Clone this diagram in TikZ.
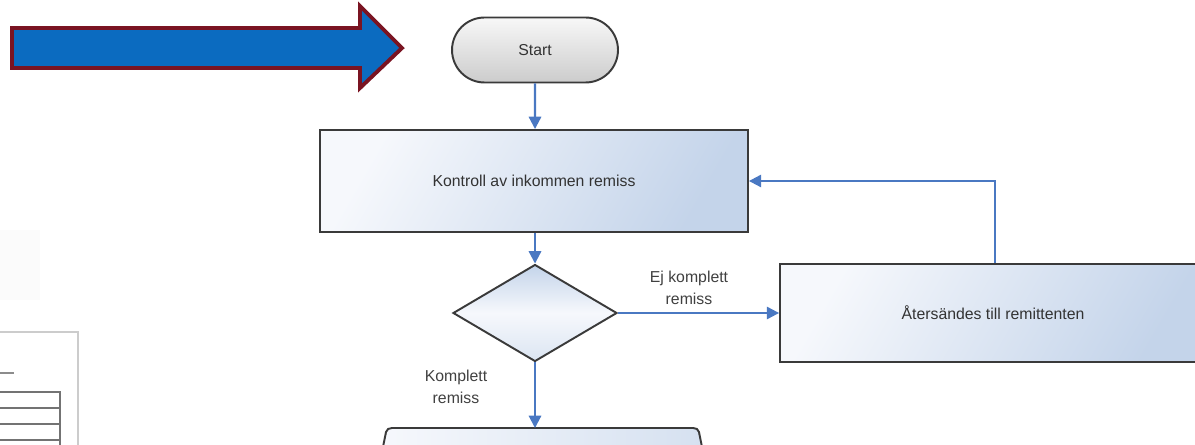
\documentclass[tikz,border=0pt]{standalone}
\usepackage{fontspec}
\setmainfont{Liberation Sans}
\usetikzlibrary{shapes.geometric,shapes.misc,arrows.meta}
\definecolor{flowblue}{HTML}{4A78C2}
\definecolor{boxline}{HTML}{3A3A3A}
\definecolor{bluelight}{HTML}{F6F8FC}
\definecolor{bluedark}{HTML}{C4D4EA}
\definecolor{arrowfill}{HTML}{0B6BC0}
\definecolor{arrowedge}{HTML}{7A1422}
\tikzset{
  box/.style={draw=boxline, line width=1.1pt, rectangle, inner sep=0pt,
     left color=bluelight, right color=bluedark, shading angle=60,
     font=\fontsize{9}{11}\selectfont, text=black!80},
  flow/.style={draw=flowblue, line width=1.2pt, -{Triangle[length=7pt,width=7pt]}},
  lbl/.style={align=center, font=\fontsize{9}{12.5}\selectfont, text=black!75, inner sep=0pt},
}
\begin{document}
\begin{tikzpicture}[x=0.02cm,y=-0.02cm]
\useasboundingbox (0,0) rectangle (1195,445);
% faint background items on the left
\fill[black!1.5] (0,230) rectangle (40,300);
\draw[black!20, line width=0.8pt] (-5,332) rectangle (78,460);
\draw[black!45, line width=0.8pt] (0,373) -- (14,373);
\draw[black!55, line width=0.7pt] (-5,392) rectangle (60,460);
\foreach \yy in {408,424,440} \draw[black!55, line width=0.7pt] (-5,\yy) -- (60,\yy);
% big arrow
\draw[fill=arrowfill, draw=arrowedge, line width=2.2pt, line join=miter]
  (12,28) -- (360,28) -- (360,6) -- (402,48) -- (360,88) -- (360,68) -- (12,68) -- cycle;
% nodes
\node[rounded rectangle, draw=boxline, line width=1.1pt, top color=black!3, bottom color=black!20,
      minimum width=3.32cm, minimum height=1.3cm, inner sep=0pt,
      font=\fontsize{9}{11}\selectfont, text=black!80] (start) at (535,50) {Start};
\node[box, minimum width=8.56cm, minimum height=2.04cm] (kontroll) at (534,181) {Kontroll av inkommen remiss};
\node[diamond, draw=boxline, line width=1.1pt, top color=bluedark, bottom color=bluedark!60, middle color=bluelight,
      minimum width=3.28cm, minimum height=1.94cm, inner sep=0pt] (beslut) at (535,313) {};
\node[box, minimum width=8.52cm, minimum height=1.96cm] (ater) at (993,313) {Återsändes till remittenten};
% partially visible bottom box
\fill[left color=bluelight, right color=bluedark!70] (382,452) -- (388,428) -- (697,428) -- (703,452) -- cycle;
\draw[boxline, line width=1.1pt] (382,452) -- (386,432) to[out=80,in=180] (392,428) -- (693,428) to[out=0,in=100] (699,432) -- (703,452);
\coordinate (nexttop) at (535,428);
\coordinate (fb) at (995,0);
% connectors
\draw[flow] (start) -- (start |- kontroll.north);
\draw[flow] (kontroll.south -| start) -- (beslut);
\draw[flow] (beslut) -- (ater);
\draw[flow] (beslut) -- (nexttop);
\draw[flow] (ater.north -| fb) |- (kontroll.east);
% labels
\node[lbl] (ejlbl) at (689,288) {Ej komplett\\remiss};
\node[lbl] (kolbl) at (456,387) {Komplett\\remiss};
\end{tikzpicture}
\end{document}
